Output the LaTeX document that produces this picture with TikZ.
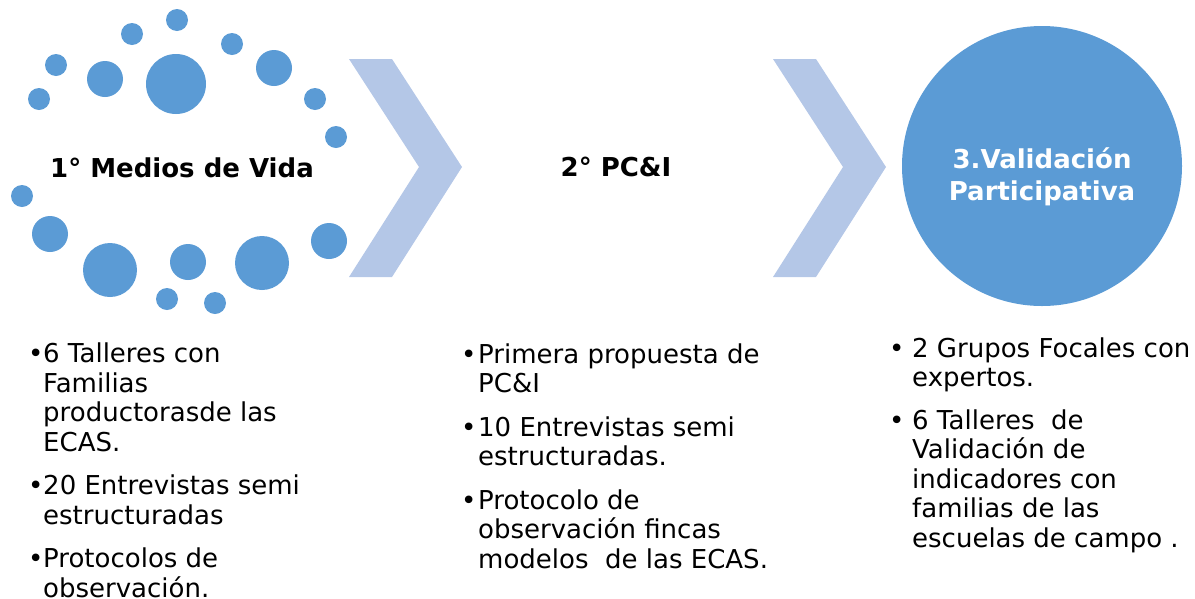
\documentclass[tikz,border=0pt]{standalone}
\usepackage{fontspec}
\setmainfont{DejaVu Sans}
\definecolor{dotblue}{HTML}{5B9BD5}
\definecolor{arrowblue}{HTML}{B4C7E7}
\newcommand\bul[1]{\leavevmode\llap{\makebox[#1][l]{\textbullet}}}

\begin{document}
\begin{tikzpicture}[x=1pt, y=-1pt,
    title/.style={font=\fontsize{26}{32}\selectfont\bfseries, inner sep=0pt},
    items/.style={font=\fontsize{26}{29.5}\selectfont, align=left, anchor=base west, inner sep=0pt},
    chevron/.style={fill=arrowblue}]
  \useasboundingbox (0,0) rectangle (1195,598);
  \foreach \cx/\cy/\r in {177/20/11, 132/34/11, 232/44/11, 56/65/11, 105/79/18,
      176/84/30, 274/68/18, 39/99/11, 315/99/11, 336/137/11, 22/196/11, 50/234/18,
      110/270/27, 188/262/18, 262/263/27, 329/241/18, 167/299/11, 215/303/11}
    \fill[dotblue] (\cx,\cy) circle (\r pt);
  \node[title] (medios) at (182,168) {1° Medios de Vida};

  \fill[chevron] (349,59) -- (392,59) -- (462,167) -- (392,277) -- (349,277) -- (419,167) -- cycle;
  \node[title] (pci) at (616,167) {2° PC\&I};

  \fill[chevron] (773,59) -- (816,59) -- (886,167) -- (816,277) -- (773,277) -- (843,167) -- cycle;
  \node[circle, fill=dotblue, minimum size=280pt, inner sep=0pt] (valid) at (1042,166) {};
  \node[title, text=white, align=center] (validtxt) at (1042,177) {3.Validación\\Participativa};

  % anchor base = baseline of the last line
  \node[items] (mediositems) at (43,597) {\bul{15pt}6 Talleres con\\Familias\\productorasde las\\ECAS.\\[14pt]
    \bul{15pt}20 Entrevistas semi\\estructuradas\\[14pt]\bul{15pt}Protocolos de\\observación.};
  \node[items] (pciitems) at (478,568) {\bul{17pt}Primera propuesta de\\PC\&I\\[14pt]
    \bul{17pt}10 Entrevistas semi\\estructuradas.\\[14pt]\bul{17pt}Protocolo de\\observación fincas\\modelos\ \ de las ECAS.};
  \node[items] (validitems) at (912,547) {\bul{23pt}2 Grupos Focales con\\expertos.\\[13pt]
    \bul{23pt}6 Talleres\ \ de\\Validación de\\indicadores con\\familias de las\\escuelas de campo .};
\end{tikzpicture}
\end{document}
